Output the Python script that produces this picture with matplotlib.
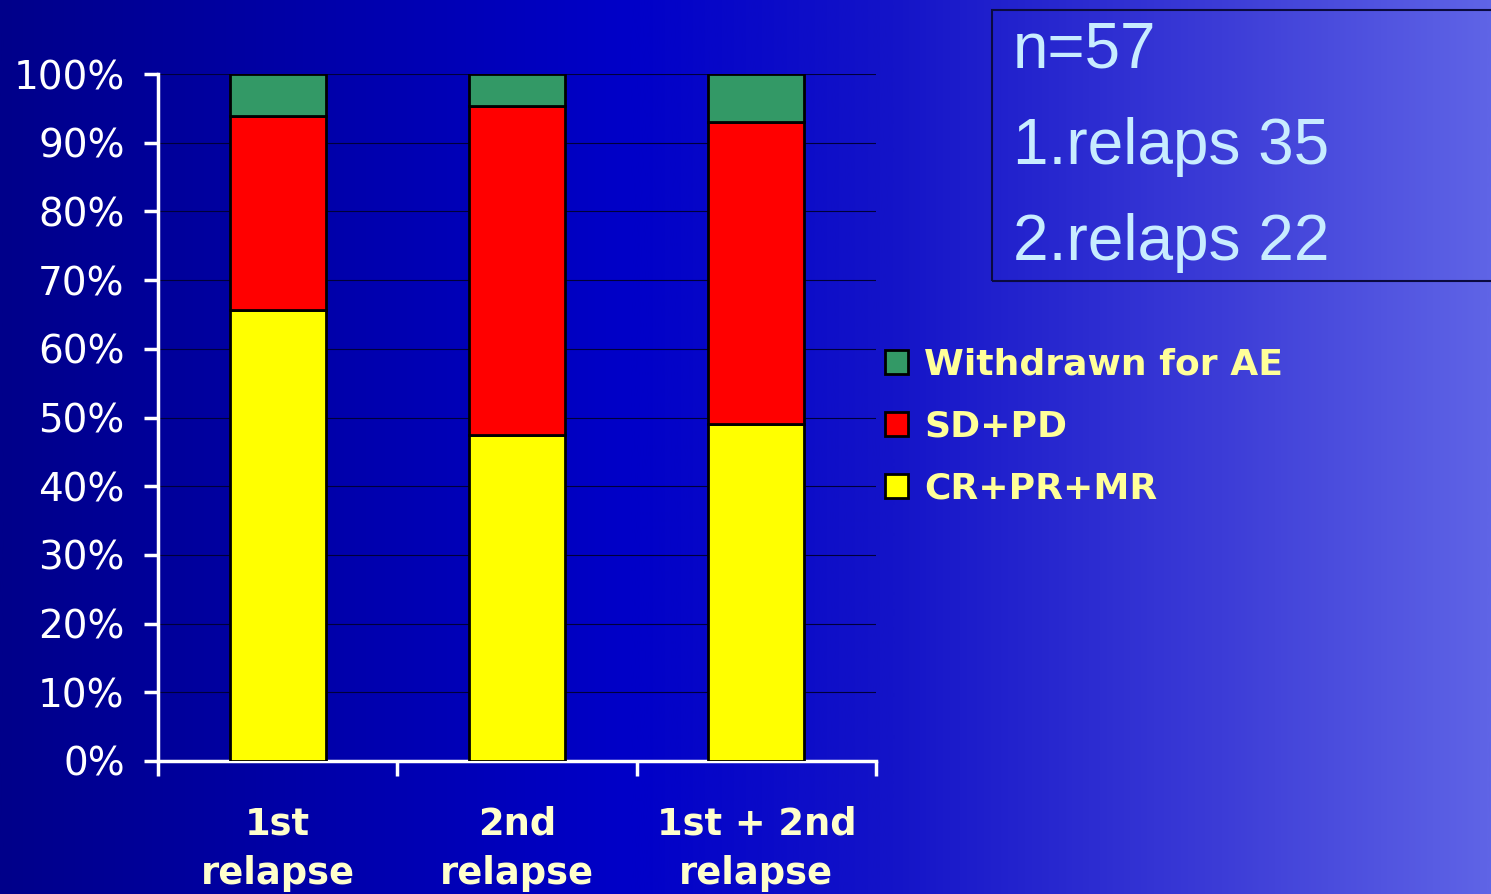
import numpy as np
import matplotlib
matplotlib.use("Agg")
import matplotlib.pyplot as plt
from matplotlib.colors import LinearSegmentedColormap
from matplotlib.patches import Rectangle

# Response breakdown per relapse group (percent of patients)
groups = ["1st\nrelapse", "2nd\nrelapse", "1st + 2nd\nrelapse"]
responders = [65.7, 47.5, 49.0]      # CR+PR+MR
stable_prog = [28.2, 47.9, 44.0]     # SD+PD
withdrawn = [6.1, 4.6, 7.0]          # Withdrawn for AE
series_names = ["CR+PR+MR", "SD+PD", "Withdrawn for AE"]
series_colors = ["#ffff00", "#ff0000", "#339966"]
yticks = list(range(0, 101, 10))
info_lines = ["n=57", "1.relaps 35", "2.relaps 22"]

fig = plt.figure(figsize=(14.91, 8.94), dpi=100)

# slide background: horizontal navy-to-periwinkle gradient
bg = fig.add_axes([0, 0, 1, 1], zorder=-10)
bg_cmap = LinearSegmentedColormap.from_list(
    "slide",
    [(0.0, (0 / 255, 0 / 255, 138 / 255)),
     (0.42, (0 / 255, 0 / 255, 200 / 255)),
     (0.6, (20 / 255, 20 / 255, 200 / 255)),
     (0.82, (60 / 255, 60 / 255, 215 / 255)),
     (1.0, (95 / 255, 100 / 255, 230 / 255))])
bg.imshow(np.linspace(0, 1, 512).reshape(1, -1), aspect="auto", cmap=bg_cmap,
          extent=[0, 1, 0, 1])
bg.set_axis_off()

ax = fig.add_axes([158 / 1491, 1 - 761 / 894, (876 - 158) / 1491, (761 - 74) / 894])
ax.patch.set_alpha(0)

x = np.arange(len(groups))
bottom = np.zeros(len(groups))
handles = []
for vals, name, color in zip([responders, stable_prog, withdrawn], series_names, series_colors):
    h = ax.bar(x, vals, width=0.4, bottom=bottom, color=color, edgecolor="black",
               linewidth=2.0, label=name, zorder=3)
    handles.append(h)
    bottom += np.array(vals)

ax.set_xlim(-0.5, 2.5)
ax.set_ylim(0, 100)
ax.set_yticks(yticks)
ax.set_yticklabels([f"{t}%" for t in yticks], fontsize=28, color="white")
ax.yaxis.grid(True, color="#00003a", linewidth=0.8, zorder=0)

ax.set_xticks([-0.5, 0.5, 1.5, 2.5])
ax.set_xticklabels([])
ax.set_xticks(x, minor=True)
ax.set_xticklabels(groups, minor=True, fontsize=26.5, fontweight="bold",
                   color="#ffffcc", linespacing=1.45)
ax.tick_params(axis="x", which="minor", length=0, pad=32)
ax.tick_params(axis="x", which="major", length=11, width=2.5, color="white",
               direction="out")
ax.tick_params(axis="y", length=10, width=2.5, color="white", pad=14)

for side in ["top", "right"]:
    ax.spines[side].set_visible(False)
for side in ["left", "bottom"]:
    ax.spines[side].set_color("white")
    ax.spines[side].set_linewidth(2.5)

leg = fig.legend(handles[::-1], series_names[::-1], loc="upper left",
                 bbox_to_anchor=(852 / 1491, 1 - 315 / 894), frameon=False,
                 prop={"size": 26, "weight": "bold"}, handlelength=0.65,
                 handleheight=0.65, handletextpad=0.45, labelspacing=0.78)
for t in leg.get_texts():
    t.set_color("#ffff99")

# summary box in the upper right
fig.patches.append(Rectangle((992 / 1491, 1 - 281 / 894), 0.4, 271 / 894,
                             transform=fig.transFigure, facecolor="none",
                             edgecolor="#0a0a40", linewidth=1.5))
for i, line in enumerate(info_lines):
    fig.text(1013 / 1491, 1 - (68 + i * 96) / 894, line, fontsize=46,
             family="Liberation Sans", color="#c8ecff", va="baseline")

fig.savefig("out.png", dpi=100)
